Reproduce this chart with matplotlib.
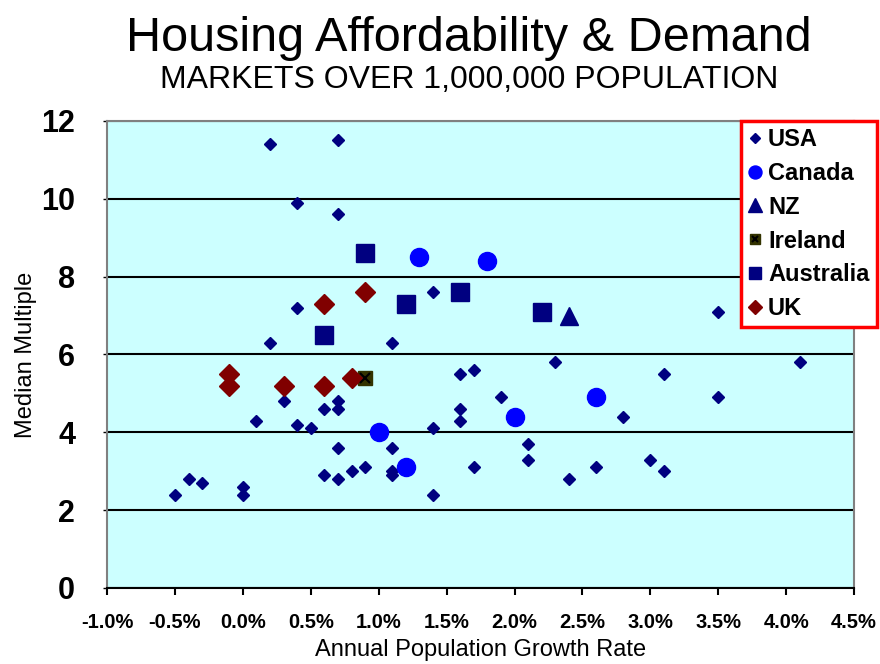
import matplotlib
matplotlib.use("Agg")
import matplotlib.pyplot as plt
from matplotlib.ticker import FuncFormatter, MultipleLocator
from matplotlib.legend_handler import HandlerTuple

plt.rcParams['font.family'] = ['Liberation Sans', 'DejaVu Sans']

# growth rate (%) and median multiple
usa_x = [0.2, 0.7, 0.4, 0.7, 0.4, 0.2, 1.1, 1.4, 3.5, 2.3, 4.1, 3.1, 1.6, 1.7,
         1.9, 3.5, 2.8, 1.6, 1.6, 1.4, 0.3, 0.7, 0.7, 0.6, 0.1, 0.4, 0.5, 1.1,
         0.7, 1.1, 1.1, 0.6, 0.7, 0.8, 0.9, -0.4, -0.3, -0.5, 0.0, 0.0, 2.1,
         2.1, 1.7, 1.4, 2.4, 2.6, 3.0, 3.1]
usa_y = [11.4, 11.5, 9.9, 9.6, 7.2, 6.3, 6.3, 7.6, 7.1, 5.8, 5.8, 5.5, 5.5, 5.6,
         4.9, 4.9, 4.4, 4.6, 4.3, 4.1, 4.8, 4.8, 4.6, 4.6, 4.3, 4.2, 4.1, 3.6,
         3.6, 3.0, 2.9, 2.9, 2.8, 3.0, 3.1, 2.8, 2.7, 2.4, 2.6, 2.4, 3.7,
         3.3, 3.1, 2.4, 2.8, 3.1, 3.3, 3.0]
canada_x = [1.3, 1.8, 1.0, 1.2, 2.0, 2.6]
canada_y = [8.5, 8.4, 4.0, 3.1, 4.4, 4.9]
nz_x = [2.4]
nz_y = [7.0]
ireland_x = [0.9]
ireland_y = [5.4]
australia_x = [0.9, 0.6, 1.2, 1.6, 2.2]
australia_y = [8.6, 6.5, 7.3, 7.6, 7.1]
uk_x = [-0.1, -0.1, 0.3, 0.6, 0.8, 0.9, 0.6]
uk_y = [5.5, 5.2, 5.2, 5.2, 5.4, 7.6, 7.3]

fig = plt.figure(figsize=(8.8, 6.64), dpi=100)
ax = fig.add_axes([0.1216, 0.1145, 0.849, 0.7033])
ax.set_facecolor('#CCFFFF')

h_usa, = ax.plot(usa_x, usa_y, 'D', color='#000080', ms=6.6, mec='#000080', ls='none', zorder=3)
h_can, = ax.plot(canada_x, canada_y, 'o', color='#0000FF', ms=13, mec='#0000FF', ls='none', zorder=3)
h_nz, = ax.plot(nz_x, nz_y, '^', color='#000080', ms=13.5, mec='#000080', ls='none', zorder=3)
h_ire1, = ax.plot(ireland_x, ireland_y, 's', color='#333300', ms=9.4, mec='#333300', ls='none', zorder=3)
h_ire2, = ax.plot(ireland_x, ireland_y, 'x', color='black', ms=6.5, mew=1.5, ls='none', zorder=4)
h_aus, = ax.plot(australia_x, australia_y, 's', color='#000080', ms=12.5, mec='#000080', ls='none', zorder=3)
h_uk, = ax.plot(uk_x, uk_y, 'D', color='#800000', ms=9.7, mec='#800000', ls='none', zorder=3)

ax.set_xlim(-1.0, 4.5)
ax.set_ylim(0, 12)
ax.xaxis.set_major_locator(MultipleLocator(0.5))
ax.yaxis.set_major_locator(MultipleLocator(2))
ax.xaxis.set_major_formatter(FuncFormatter(lambda v, p: '%.1f%%' % v))
ax.yaxis.set_major_formatter(FuncFormatter(lambda v, p: '%d' % v))
ax.grid(axis='y', color='black', lw=1.5)
ax.set_axisbelow(True)

for s in ['top', 'right', 'left']:
    ax.spines[s].set_color('#808080')
    ax.spines[s].set_linewidth(1.5)
ax.spines['bottom'].set_color('black')
ax.spines['bottom'].set_linewidth(1.5)
ax.tick_params(axis='x', direction='out', length=5, width=1.5, colors='black',
               labelsize=14.5, pad=13)
ax.tick_params(axis='y', direction='out', length=3, width=1, colors='black',
               labelsize=22, pad=20)
for lab in ax.get_xticklabels() + ax.get_yticklabels():
    lab.set_fontweight('bold')

ax.set_xlabel('Annual Population Growth Rate', fontsize=17, labelpad=5)
ax.set_ylabel('Median Multiple', fontsize=17, labelpad=3)

fig.text(0.533, 0.923, 'Housing Affordability & Demand', ha='center', va='baseline', fontsize=35)
fig.text(0.533, 0.868, 'MARKETS OVER 1,000,000 POPULATION', ha='center', va='baseline', fontsize=23)

leg = fig.legend([h_usa, h_can, h_nz, (h_ire1, h_ire2), h_aus, h_uk],
                 ['USA', 'Canada', 'NZ', 'Ireland', 'Australia', 'UK'],
                 handler_map={tuple: HandlerTuple(ndivide=1, pad=0)},
                 loc='upper left', bbox_to_anchor=(0.842, 0.818),
                 prop={'weight': 'bold', 'size': 17}, markerscale=0.72,
                 handlelength=0.6, handletextpad=0.25, labelspacing=0.46,
                 borderpad=0.3, borderaxespad=0, fancybox=False, framealpha=1,
                 edgecolor='#FF0000')
leg.get_frame().set_linewidth(2.5)

fig.savefig('out.png', dpi=100)
